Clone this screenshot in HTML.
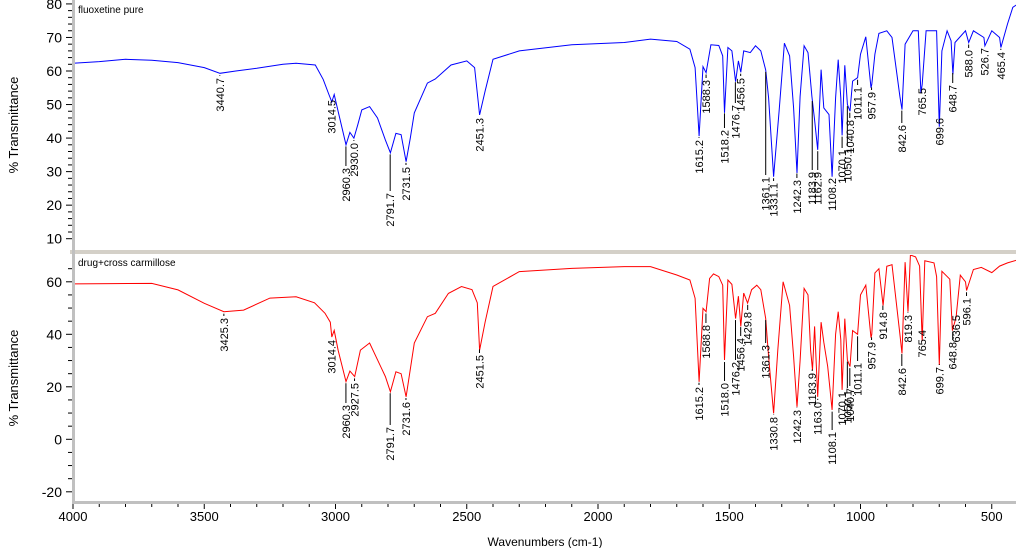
<!DOCTYPE html>
<html><head><meta charset="utf-8"><style>
html,body{margin:0;padding:0;background:#fff;width:1016px;height:548px;overflow:hidden}
svg{display:block;font-family:"Liberation Sans",sans-serif}
</style></head><body>
<svg id="chart" width="1016" height="548" viewBox="0 0 1016 548" xmlns="http://www.w3.org/2000/svg">
<defs>
<clipPath id="clipTop"><rect x="75" y="0" width="941" height="250"/></clipPath>
<clipPath id="clipBot"><rect x="75" y="255" width="941" height="246"/></clipPath>
</defs>
<rect x="70" y="250" width="946" height="4" fill="#d4d0c8"/>
<rect x="72" y="0" width="3" height="504" fill="#c0c0c0"/>
<rect x="72" y="501" width="944" height="3" fill="#c0c0c0"/>
<text x="78" y="13" font-size="10" fill="#000">fluoxetine pure</text>
<text x="78" y="266" font-size="10" fill="#000">drug+cross carmillose</text>
<text transform="translate(18,125) rotate(-90)" text-anchor="middle" font-size="13">% Transmittance</text>
<text transform="translate(18,378) rotate(-90)" text-anchor="middle" font-size="13">% Transmittance</text>
<text x="545" y="546" text-anchor="middle" font-size="12">Wavenumbers (cm-1)</text>
<g id="axes"></g>
<g id="series"></g>
<g id="labels"></g>
</svg>
<script>
const topWn=[4000,3900,3800,3700,3600,3500,3440,3380,3300,3200,3150,3077,3047,3025,3014,3005,2990,2960,2945,2930,2915,2900,2870,2840,2810,2791,2770,2750,2731,2715,2700,2650,2620,2560,2500,2470,2451,2430,2400,2300,2100,1900,1800,1700,1650,1630,1615,1600,1588,1570,1540,1525,1518,1505,1490,1476,1465,1456,1445,1420,1400,1380,1361,1350,1331,1310,1290,1270,1255,1242,1230,1215,1200,1185,1175,1163,1150,1140,1120,1108,1095,1085,1075,1070,1060,1050,1040,1030,1011,1000,980,960,957,945,930,900,880,850,842,830,800,780,770,765,750,710,700,690,670,655,648,640,600,588,570,530,526,500,470,465,440,420,400];
const topT=[62.3,62.8,63.5,63.2,62.5,61.0,59.3,60.0,60.8,62.0,62.3,61.8,57.5,53,50.8,53,48,38,41.7,40,44,48.4,49.4,46,39.4,35.6,41.4,41,33,40,47.5,56.4,57.6,61.8,63,61,46.9,54,63.5,66,67.8,68.5,69.5,68.8,66.5,61,40.6,61.3,59.5,67.8,67.6,64.5,47.5,67,66,56.8,63,59.6,66,65.5,67.5,66,60.3,52,28.5,48,68.3,64.5,49,29.6,52.4,67.5,65.5,52.4,45.4,36.5,60.4,49,47,28.5,52,63.4,52,40.8,61.7,50,48,57,58,65,70.2,55,56,65,71.2,72,70,52.4,48.5,68,72,72,53.5,56,72,72,43.4,66,72,69,59,68.5,72,68.5,72,70,67.5,72,70,67,74,79,80];
const botWn=[4000,3850,3700,3600,3500,3425,3350,3250,3150,3080,3040,3020,3014,3005,2990,2960,2945,2927,2905,2870,2840,2810,2791,2770,2750,2731,2700,2650,2620,2570,2520,2480,2460,2451,2430,2400,2300,2100,1900,1800,1700,1650,1630,1615,1600,1588,1575,1560,1540,1525,1518,1505,1490,1476,1465,1456,1445,1430,1415,1395,1380,1361,1350,1331,1315,1295,1270,1255,1242,1230,1215,1200,1190,1183,1175,1163,1150,1140,1125,1108,1095,1085,1075,1070,1060,1050,1040,1030,1011,1000,980,960,957,945,930,914,900,880,850,842,830,819,810,790,775,765,755,720,710,700,690,660,650,636,620,600,596,570,540,500,470,440,400];
const botT=[59.2,59.3,59.4,56.9,51.8,48.6,49.2,53.8,54.3,52,48,44.6,39,41.5,34,22,26,23.9,34,36.7,30.3,23.9,18.1,25.7,25,16.2,36.7,46.7,48,55.6,58.2,57,52,34,44.6,58.2,63.9,65.1,65.8,65.8,62.6,60.7,53.7,21.9,49.9,48.6,61.3,63,62,58.7,30.2,60.7,59,46,54.5,43,55.7,51.9,57,58.7,57,46,31.5,9.9,34,60,51,31.5,12.4,30,57.5,55,34,26.4,43,16.2,44.6,37,27.7,11.2,40,48.6,38,18.8,46,30.2,27.7,41.4,40,55,58.7,38.7,40,63.4,65,51,65.9,66.5,40,32.7,67.5,48.6,70.2,69.5,66,37.4,68,67.2,62,28.3,64,61,41.4,46.5,62.5,60,56.7,64.7,65.5,63.5,66,67.2,68.4];
const tickTopVals=[10,20,30,40,50,60,70,80];
const tickBotVals=[-20,0,20,40,60];
const tickXVals=[4000,3500,3000,2500,2000,1500,1000,500];
const topLabelText=["3440.7","3014.5","2960.3","2930.0","2791.7","2731.5","2451.3","1615.2","1588.3","1518.2","1476.7","1456.5","1361.1","1331.1","1242.3","1183.9","1162.9","1108.2","1070.1","1050.1","1040.8","1011.1","957.9","842.6","765.5","699.6","648.7","588.0","526.7","465.4"];
const topLabelTop=[78,100,168,143,193,167,118,140,80,130,105,78,177,183,180,172,172,178,150,148,120,87,92,125,88,118,85,50,48,52];
const botLabelText=["3425.3","3014.4","2960.3","2927.5","2791.7","2731.6","2451.5","1615.2","1588.8","1518.0","1476.2","1456.4","1429.8","1361.3","1330.8","1242.3","1183.9","1163.0","1108.1","1070.1","1050.1","1040.7","1011.1","957.9","914.8","842.6","819.3","765.4","699.7","648.8","636.5","596.1"];
const botLabelTop=[318,340,405,383,427,402,355,387,325,383,362,338,312,345,417,410,373,402,432,392,390,388,363,342,312,368,315,330,367,342,315,298];

const NS="http://www.w3.org/2000/svg";
function xs(w){return 73+(4000-w)*0.2625;}
function yTop(v){return 71+(60-v)*3.354;}
function yBot(v){return 439.3-v*2.625;}
function interp(wn,t,w){for(let i=0;i<wn.length-1;i++){if(w<=wn[i]&&w>=wn[i+1]){const f=(wn[i]-w)/(wn[i]-wn[i+1]);return t[i]+f*(t[i+1]-t[i]);}}return t[t.length-1];}
function mk(tag,attrs,parent){const e=document.createElementNS(NS,tag);for(const k in attrs)e.setAttribute(k,attrs[k]);parent.appendChild(e);return e;}
const axes=document.getElementById('axes');
for(let v=10;v<=80;v+=2){const y=yTop(v);const major=v%10===0;
const t=mk('line',{x1:major?66:68,x2:72,y1:y,y2:y,stroke:'#000','stroke-width':1},axes);

}
tickTopVals.forEach(v=>{const t=mk('text',{x:62,y:yTop(v)+5,'text-anchor':'end','font-size':14},axes);t.textContent=v;

});
for(let v=-20;v<=65;v+=5){const y=yBot(v);const major=v%20===0;
const t=mk('line',{x1:major?66:68,x2:72,y1:y,y2:y,stroke:'#000','stroke-width':1},axes);

}
tickBotVals.forEach(v=>{const t=mk('text',{x:62,y:yBot(v)+5,'text-anchor':'end','font-size':14},axes);t.textContent=v;

});
for(let w=4000;w>=400;w-=100){const x=xs(w);const major=w%500===0;
const t=mk('line',{x1:x,x2:x,y1:504,y2:major?509:507,stroke:'#000','stroke-width':1},axes);

}
tickXVals.forEach(w=>{const t=mk('text',{x:xs(w),y:521,'text-anchor':'middle','font-size':13},axes);t.textContent=w;

});

const series=document.getElementById('series');
const pTop=mk('polyline',{points:topWn.map((w,i)=>xs(w).toFixed(1)+','+yTop(topT[i]).toFixed(1)).join(' '),fill:'none',stroke:'#0000ff','stroke-width':1,'clip-path':'url(#clipTop)'},series);


const pBot=mk('polyline',{points:botWn.map((w,i)=>xs(w).toFixed(1)+','+yBot(botT[i]).toFixed(1)).join(' '),fill:'none',stroke:'#ff0000','stroke-width':1,'clip-path':'url(#clipBot)'},series);



const labels=document.getElementById('labels');
function drawLabels(texts,tops,wn,t,yf,prefix){texts.forEach((s,i)=>{const w=parseFloat(s);const x=xs(w);const yp=yf(interp(wn,t,w))+2;const yt=tops[i];
if(yt-2>yp){const l=mk('line',{x1:x,x2:x,y1:yp,y2:yt-2,stroke:'#000','stroke-width':1},labels);

}
const tx=mk('text',{transform:'translate('+(x+4)+','+yt+') rotate(-90)','text-anchor':'end','font-size':11},labels);tx.textContent=s;

});}
drawLabels(topLabelText,topLabelTop,topWn,topT,yTop,'top');
drawLabels(botLabelText,botLabelTop,botWn,botT,yBot,'bottom');
</script>
</body></html>
